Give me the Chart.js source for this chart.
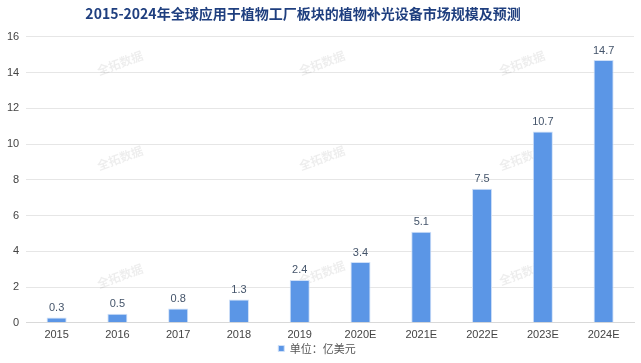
<!DOCTYPE html>
<html>
<head>
<meta charset="utf-8">
<script src="https://cdn.jsdelivr.net/npm/chart.js@4"></script>
<style>
  html, body { margin: 0; padding: 0; background: #fff; }
  #wrap { width: 641px; height: 363px; }
</style>
</head>
<body>
<div id="wrap"><canvas id="mchart" width="641" height="363"></canvas></div>
<script>
var years = ["2015", "2016", "2017", "2018", "2019", "2020E", "2021E", "2022E", "2023E", "2024E"];
var marketSize = [0.3, 0.5, 0.8, 1.3, 2.4, 3.4, 5.1, 7.5, 10.7, 14.7];
var yTicks = [0, 2, 4, 6, 8, 10, 12, 14, 16];
var chartTitle = "2015-2024年全球应用于植物工厂板块的植物补光设备市场规模及预测";
var seriesName = "单位：亿美元";
var watermark = "全拓数据";

var cjkFont = "'Noto Sans CJK SC', sans-serif";
var numFont = "'Liberation Sans', Arial, 'Noto Sans CJK SC', sans-serif";

// faint rotated watermark behind the bars
var watermarkPlugin = {
  id: 'watermark',
  beforeDatasetsDraw: function (chart) {
    var ctx = chart.ctx;
    var spots = [[120, 63], [322, 63], [522, 63], [120, 158], [322, 158], [522, 158], [120, 276], [322, 273], [522, 273]];
    ctx.save();
    ctx.font = "bold 12px " + cjkFont;
    ctx.fillStyle = "rgba(0,0,0,0.07)";
    ctx.textAlign = "center";
    ctx.textBaseline = "middle";
    spots.forEach(function (p) {
      ctx.save();
      ctx.translate(p[0], p[1]);
      ctx.rotate(-20 * Math.PI / 180);
      ctx.fillText(watermark, 0, 0);
      ctx.restore();
    });
    ctx.restore();
  }
};

// value labels on top of each bar
var valueLabels = {
  id: 'valueLabels',
  afterDatasetsDraw: function (chart) {
    var ctx = chart.ctx;
    var meta = chart.getDatasetMeta(0);
    ctx.save();
    ctx.font = "11px " + numFont;
    ctx.fillStyle = "#44546a";
    ctx.textAlign = "center";
    ctx.textBaseline = "bottom";
    meta.data.forEach(function (bar, i) {
      ctx.fillText(String(chart.data.datasets[0].data[i]), bar.x, bar.y - 4);
    });
    ctx.restore();
  }
};

new Chart(document.getElementById("mchart"), {
  type: 'bar',
  data: {
    labels: years,
    datasets: [{
      label: seriesName,
      data: marketSize,
      backgroundColor: "#5b96e6",
      borderColor: "#cfe0f8",
      borderWidth: 1,
      categoryPercentage: 1,
      barPercentage: 0.33
    }]
  },
  options: {
    responsive: false,
    animation: false,
    layout: { padding: { left: 0, right: 7, top: 4, bottom: -1 } },
    plugins: {
      title: {
        display: true,
        // trailing ideographic spaces nudge the centred title a bit to the left, like the original
        text: chartTitle + "\u3000\u3000",
        color: "#1f3f7f",
        font: { family: cjkFont, size: 14, weight: 'bold' },
        padding: { top: 1, bottom: 15 }
      },
      legend: {
        position: 'bottom',
        labels: {
          color: "#555",
          font: { family: cjkFont, size: 11 },
          boxWidth: 6,
          boxHeight: 6,
          padding: 2
        }
      },
      tooltip: { enabled: false }
    },
    scales: {
      x: {
        grid: { display: false, drawTicks: false },
        border: { color: "#d9d9d9" },
        ticks: { color: "#444", font: { family: numFont, size: 11 }, padding: 6 },
        // tighten the gap between the year labels and the legend
        afterFit: function (axis) { axis.height -= 7; }
      },
      y: {
        min: 0,
        max: 16,
        afterBuildTicks: function (axis) {
          axis.ticks = yTicks.map(function (v) { return { value: v }; });
        },
        grid: { color: "#e6e6e6", drawTicks: false },
        border: { display: false },
        ticks: { color: "#444", font: { family: numFont, size: 11 }, padding: 7 }
      }
    }
  },
  plugins: [watermarkPlugin, valueLabels]
});
</script>
</body>
</html>
